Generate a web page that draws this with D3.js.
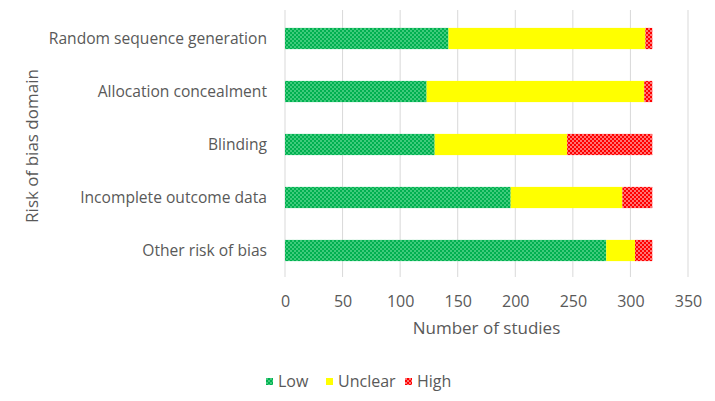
<!DOCTYPE html>
<html>
<head>
<meta charset="utf-8">
<script src="https://cdn.jsdelivr.net/npm/d3@7"></script>
<style>
  body { margin: 0; background: #fff; }
  text { font-family: "Open Sans", sans-serif; fill: #595959; }
</style>
</head>
<body>
<div id="chart"></div>
<script>
// Risk of bias per domain, number of studies
var domains = [
    "Random sequence generation",
    "Allocation concealment",
    "Blinding",
    "Incomplete outcome data",
    "Other risk of bias"
];
var lowValues = [142, 123, 130, 196, 279];
var unclearValues = [171, 189, 115, 97, 25];
var highValues = [6, 7, 74, 26, 15];
var seriesNames = ["Low", "Unclear", "High"];
var xTicks = [0, 50, 100, 150, 200, 250, 300, 350];

var width = 715, height = 401;
var margin = { top: 12, right: 27, bottom: 124, left: 285 };

var svg = d3.select("#chart").append("svg")
    .attr("width", width)
    .attr("height", height);

// dotted fills, like the excel pattern
var defs = svg.append("defs");
var patterns = [
    ["patLow", "#00B050", "#3FCB7C"],
    ["patHigh", "#FF0000", "#FF7373"]
];
patterns.forEach(function(p) {
    var pat = defs.append("pattern")
        .attr("id", p[0])
        .attr("width", 4)
        .attr("height", 4)
        .attr("patternUnits", "userSpaceOnUse");
    pat.append("rect").attr("width", 4).attr("height", 4).attr("fill", p[1]);
    pat.append("rect").attr("x", 0).attr("y", 0).attr("width", 2).attr("height", 2).attr("fill", p[2]);
    pat.append("rect").attr("x", 2).attr("y", 2).attr("width", 2).attr("height", 2).attr("fill", p[2]);
});
var fills = ["url(#patLow)", "#FFFF00", "url(#patHigh)"];

var x = d3.scaleLinear()
    .domain([0, 350])
    .range([margin.left, width - margin.right]);

var y = d3.scaleBand()
    .domain(domains)
    .range([margin.top, height - margin.bottom])
    .paddingInner(0.6)
    .paddingOuter(0.3);

// gridlines
svg.append("g")
    .selectAll("line")
    .data(xTicks)
    .enter().append("line")
    .attr("x1", function(d) { return x(d); })
    .attr("x2", function(d) { return x(d); })
    .attr("y1", 10)
    .attr("y2", height - margin.bottom)
    .style("stroke", "#D9D9D9")
    .style("stroke-width", 1);

var table = domains.map(function(d, i) {
    return { domain: d, Low: lowValues[i], Unclear: unclearValues[i], High: highValues[i] };
});
var stack = d3.stack().keys(seriesNames)(table);

svg.append("g")
    .selectAll("g")
    .data(stack)
    .enter().append("g")
    .attr("fill", function(d, i) { return fills[i]; })
    .selectAll("rect")
    .data(function(d) { return d; })
    .enter().append("rect")
    .attr("x", function(d) { return x(d[0]); })
    .attr("width", function(d) { return x(d[1]) - x(d[0]); })
    .attr("y", function(d) { return y(d.data.domain); })
    .attr("height", y.bandwidth());

// x axis labels
var xAxis = svg.append("g")
    .attr("transform", "translate(0," + (height - margin.bottom) + ")")
    .call(d3.axisBottom(x).tickValues(xTicks).tickSize(0).tickPadding(19));
xAxis.select(".domain").remove();
xAxis.selectAll("text")
    .style("font-size", "16px")
    .style("fill", "#595959")
    .style("font-family", "'Open Sans', sans-serif");

// y axis labels
var yAxis = svg.append("g")
    .attr("transform", "translate(" + margin.left + ",0)")
    .call(d3.axisLeft(y).tickSize(0).tickPadding(18));
yAxis.select(".domain").remove();
yAxis.selectAll("text")
    .style("font-size", "15.6px")
    .style("fill", "#595959")
    .style("font-family", "'Open Sans', sans-serif");

// axis titles
svg.append("text")
    .attr("x", (x(0) + x(350)) / 2)
    .attr("y", 334)
    .attr("text-anchor", "middle")
    .style("font-size", "17px")
    .text("Number of studies");

svg.append("text")
    .attr("transform", "translate(38,146) rotate(-90)")
    .attr("text-anchor", "middle")
    .style("font-size", "17px")
    .text("Risk of bias domain");

// legend
var legendX = [266, 326, 405];
var legend = svg.append("g")
    .selectAll("g")
    .data(seriesNames)
    .enter().append("g")
    .attr("transform", function(d, i) { return "translate(" + legendX[i] + ",378)"; });
legend.append("rect")
    .attr("width", 7)
    .attr("height", 7)
    .attr("fill", function(d, i) { return fills[i]; });
legend.append("text")
    .attr("x", 12)
    .attr("y", 9)
    .style("font-size", "16px")
    .text(function(d) { return d; });
</script>
</body>
</html>
